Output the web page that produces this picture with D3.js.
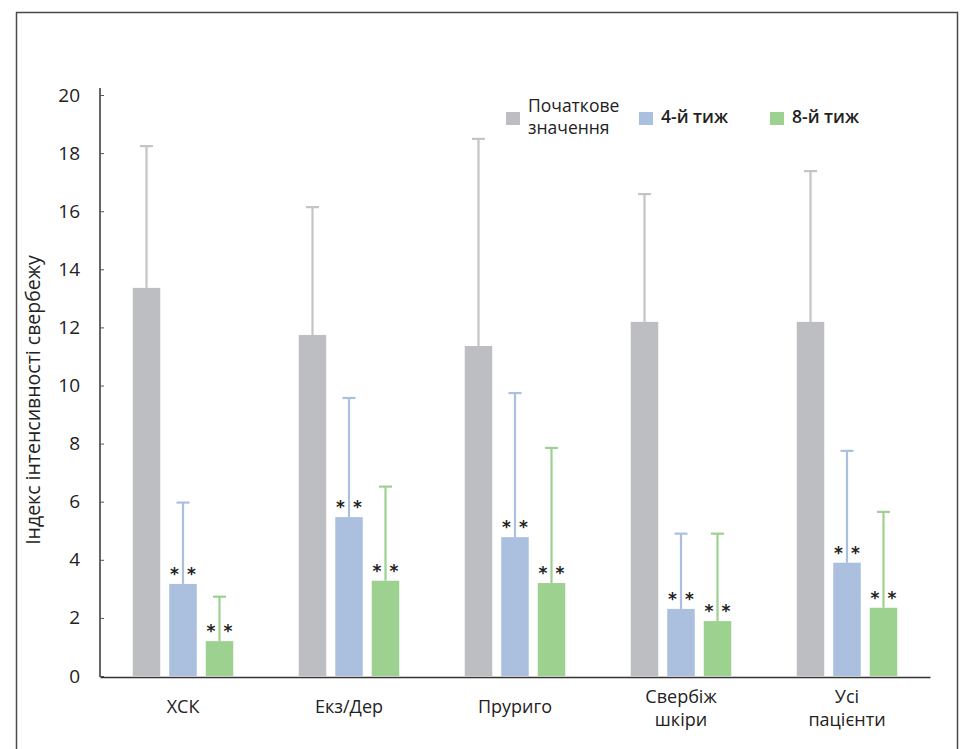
<!DOCTYPE html>
<html>
<head>
<meta charset="utf-8">
<script src="https://cdn.jsdelivr.net/npm/d3@7"></script>
<style>
  html, body { margin: 0; padding: 0; background: #fff; }
  svg { display: block; font-family: "Lato", "Noto Sans", sans-serif; }
</style>
</head>
<body>
<svg id="chart" width="966" height="749"></svg>
<script>
// Categories (groups) along the x axis; multi-line labels split on "\n"
const categories = ["ХСК", "Екз/Дер", "Пруриго", "Свербіж\nшкіри", "Усі\nпацієнти"];
const seriesNames = ["Початкове значення", "4-й тиж", "8-й тиж"];

// Mean itch intensity index per group
const baseline = [13.36, 11.74, 11.36, 12.19, 12.19];
const week4 = [3.17, 5.47, 4.78, 2.31, 3.90];
const week8 = [1.20, 3.28, 3.20, 1.89, 2.35];

// Upper end of the error bar (mean + SD)
const baselineErr = [18.24, 16.14, 18.49, 16.59, 17.38];
const week4Err = [5.97, 9.57, 9.74, 4.90, 7.75];
const week8Err = [2.73, 6.52, 7.85, 4.90, 5.65];

// Significance marker per series (none for baseline)
const markers = ["", "* *", "* *"];

const yTicks = [0, 2, 4, 6, 8, 10, 12, 14, 16, 18, 20];

const colors = ["#bdbec2", "#abc0de", "#9dd190"];
const errColors = ["#c4c4c8", "#abc0de", "#9dd190"];

const svg = d3.select("#chart");

// Outer frame
svg.append("rect")
  .attr("x", 16.5).attr("y", 12.5)
  .attr("width", 941).attr("height", 760)
  .attr("fill", "none").attr("stroke", "#4a4a4a").attr("stroke-width", 1.5);

const plot = { left: 100, right: 930, top: 95, bottom: 676 };

const x0 = d3.scaleBand()
  .domain(categories)
  .range([plot.left, plot.right])
  .padding(0);

const x1 = d3.scaleBand()
  .domain(seriesNames)
  .range([0, x0.bandwidth()])
  .paddingInner(0.2466)
  .paddingOuter(0.897);

const y = d3.scaleLinear().domain([0, 20]).range([plot.bottom, plot.top]);

const means = [baseline, week4, week8];
const errs = [baselineErr, week4Err, week8Err];

const rows = [];
categories.forEach((c, i) => {
  seriesNames.forEach((s, j) => {
    rows.push({ cat: c, series: s, si: j, value: means[j][i], err: errs[j][i] });
  });
});

const g = svg.append("g");

// Bars
g.selectAll("rect.bar")
  .data(rows)
  .join("rect")
  .attr("class", "bar")
  .attr("x", d => x0(d.cat) + x1(d.series))
  .attr("y", d => y(d.value))
  .attr("width", x1.bandwidth())
  .attr("height", d => y(0) - y(d.value))
  .attr("fill", d => colors[d.si]);

// Error bars: stem from bar top to upper limit, with cap
const eb = g.selectAll("g.err")
  .data(rows)
  .join("g")
  .attr("class", "err")
  .attr("transform", d => `translate(${x0(d.cat) + x1(d.series) + x1.bandwidth() / 2},0)`);

eb.append("line")
  .attr("x1", 0).attr("x2", 0)
  .attr("y1", d => y(d.value))
  .attr("y2", d => y(d.err))
  .attr("stroke", d => errColors[d.si])
  .attr("stroke-width", 2.2);

eb.append("line")
  .attr("x1", -6.5).attr("x2", 6.5)
  .attr("y1", d => y(d.err))
  .attr("y2", d => y(d.err))
  .attr("stroke", d => errColors[d.si])
  .attr("stroke-width", 2.2);

// Significance stars either side of the stem
eb.filter(d => markers[d.si])
  .selectAll("text")
  .data(d => [{ d, dx: -8.5 }, { d, dx: 8.5 }])
  .join("text")
  .attr("x", p => p.dx)
  .attr("y", p => y(p.d.value) - 4)
  .attr("text-anchor", "middle")
  .attr("font-family", "DejaVu Sans, sans-serif")
  .attr("font-size", 17)
  .attr("font-weight", "bold")
  .attr("fill", "#222")
  .text("*");

// Y axis
const yAxis = g.append("g")
  .attr("transform", `translate(${plot.left},0)`)
  .call(d3.axisRight(y).tickValues(yTicks).tickSize(4).tickFormat(d3.format("d")));
yAxis.select(".domain")
  .attr("d", `M0,${plot.top - 7}V${plot.bottom + 1}`)
  .attr("stroke", "#333").attr("stroke-width", 1.5);
yAxis.selectAll(".tick line").attr("stroke", "#555").attr("stroke-width", 1);
yAxis.selectAll(".tick text")
  .attr("x", -20)
  .attr("text-anchor", "end")
  .attr("font-size", 19)
  .attr("font-family", "Open Sans, sans-serif")
  .attr("fill", "#222");

// X axis baseline
const xAxis = g.append("g")
  .attr("transform", `translate(0,${plot.bottom + 1})`)
  .call(d3.axisBottom(x0).tickSize(0).tickFormat(""));
xAxis.select(".domain").attr("stroke", "#333").attr("stroke-width", 1.5);

// Category labels (centred under the middle bar)
const catLabels = g.selectAll("text.cat")
  .data(categories)
  .join("text")
  .attr("class", "cat")
  .attr("text-anchor", "middle")
  .attr("font-size", 18)
  .attr("font-family", "Open Sans, sans-serif")
  .attr("fill", "#222")
  .attr("transform", d => {
    const lines = d.split("\n").length;
    const cx = x0(d) + x1(seriesNames[1]) + x1.bandwidth() / 2;
    return `translate(${cx},${lines === 1 ? 713 : 703})`;
  });
catLabels.selectAll("tspan")
  .data(d => d.split("\n"))
  .join("tspan")
  .attr("x", 0)
  .attr("dy", (t, i) => i === 0 ? 0 : 23)
  .text(t => t);

// Y axis title
svg.append("text")
  .attr("transform", "translate(40,400) rotate(-90)")
  .attr("text-anchor", "middle")
  .attr("font-size", 19.5)
  .attr("font-family", "Open Sans, sans-serif")
  .attr("fill", "#222")
  .text("Індекс інтенсивності свербежу");

// Legend
const legendItems = [
  { name: seriesNames[0], lines: ["Початкове", "значення"], x: 506, color: colors[0] },
  { name: seriesNames[1], lines: ["4-й тиж"], x: 639, color: colors[1] },
  { name: seriesNames[2], lines: ["8-й тиж"], x: 770, color: colors[2] }
];
const lg = svg.append("g").selectAll("g")
  .data(legendItems)
  .join("g")
  .attr("transform", d => `translate(${d.x},112)`);
lg.append("rect")
  .attr("width", 14).attr("height", 13)
  .attr("fill", d => d.color);
lg.append("text")
  .attr("font-size", 17.5)
  .attr("font-family", "Open Sans, sans-serif")
  .attr("fill", "#222")
  .attr("font-weight", d => d.lines.length > 1 ? 400 : 600)
  .selectAll("tspan")
  .data(d => d.lines.map((t, i) => ({ t, i, n: d.lines.length, x: d.lines.length > 1 ? 22 : 22 })))
  .join("tspan")
  .attr("x", p => p.x)
  .attr("y", p => p.n > 1 ? (p.i === 0 ? 0 : 22) : 11)
  .text(p => p.t);
</script>
</body>
</html>
